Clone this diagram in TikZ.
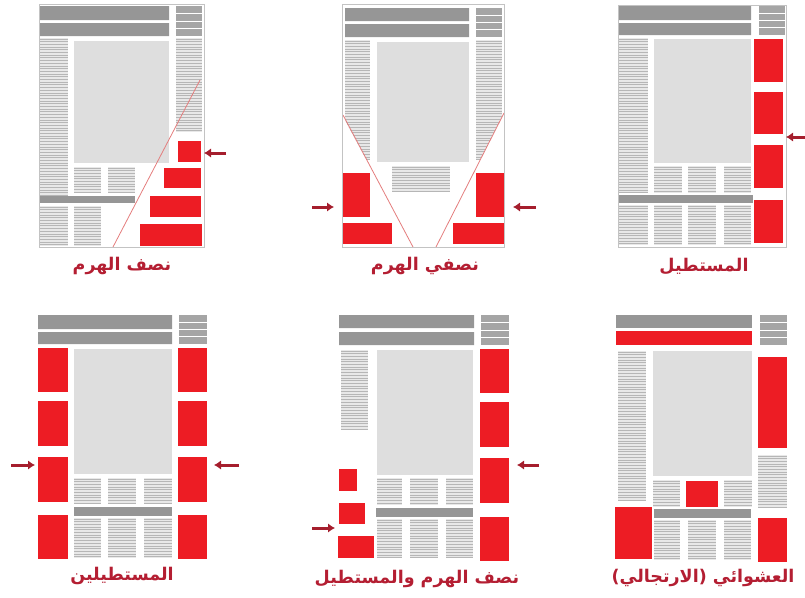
\documentclass[tikz,border=0pt]{standalone}
\usepackage{fontspec}
\newfontfamily\arabicfont[Script=Arabic]{DejaVu Sans}
\TeXXeTstate=1
\usetikzlibrary{arrows.meta,fit}

\definecolor{bargrey}{RGB}{150,150,150}
\definecolor{headgrey}{RGB}{165,165,165}
\definecolor{picgrey}{RGB}{222,222,222}
\definecolor{textgrey}{RGB}{232,232,232}
\definecolor{linegrey}{RGB}{182,182,182}
\definecolor{framegrey}{RGB}{195,195,195}
\definecolor{adred}{RGB}{237,28,36}
\definecolor{arrowred}{RGB}{165,30,45}
\definecolor{labelred}{RGB}{180,30,50}
\definecolor{pyrline}{RGB}{228,125,125}

\tikzset{
  adbox/.style={fill=adred, inner sep=0pt, outer sep=0pt},
  arw/.style={-{Latex[length=7pt,width=9.5pt]}, line width=3pt, draw=arrowred, shorten >=3pt},
  lbl/.style={text=labelred, font=\arabicfont\bfseries\fontsize{17.5}{21}\selectfont, inner sep=0pt},
  pageframe/.style={draw=framegrey, line width=0.8pt},
  pyr/.style={draw=pyrline, line width=0.8pt}
}

% a column of text lines
\newcommand{\txtcol}[4]{%
  \fill[textgrey] (#1,#2) rectangle (#3,#4);
  \begin{scope}
    \clip (#1,#2) rectangle (#3,#4);
    \foreach \k in {0,...,70}
      \draw[linegrey, line width=0.9pt] (#1,{#2+1+\k*2.7}) -- (#3,{#2+1+\k*2.7});
  \end{scope}}
% the small block beside the headline
\newcommand{\smallhead}[4]{%
  \fill[headgrey] (#1,#2) rectangle (#3,#4);
  \foreach \k in {1,2,3}
    \draw[white, line width=0.8pt] (#1,{#2+\k*(#4-#2)/4}) -- (#3,{#2+\k*(#4-#2)/4});}

\begin{document}
\begin{tikzpicture}[x=1pt, y=-1pt]
\useasboundingbox (0,0) rectangle (805,597);

% ---------- half pyramid (top left) ----------
\fill[bargrey] (40,6) rectangle (169,20) (40,23) rectangle (169,36);
\smallhead{176}{6}{202}{36}
\txtcol{40}{38}{68}{195}
\txtcol{176}{38}{202}{132}
\fill[picgrey] (74,41) rectangle (169,163);
\txtcol{74}{167}{101}{193}
\txtcol{108}{167}{135}{193}
\fill[bargrey] (40,196) rectangle (135,203);
\txtcol{40}{206}{68}{246}
\txtcol{74}{206}{101}{246}
\draw[pyr] (200,80) -- (113,247);
\node[adbox, fit={(178,141) (201,162)}] (h1) {};
\node[adbox, fit={(164,168) (201,188)}] (h2) {};
\node[adbox, fit={(150,196) (201,217)}] (h3) {};
\node[adbox, fit={(140,224) (202,246)}] (h4) {};
\draw[pageframe] (39,4) rectangle (204,247);
\coordinate (ha) at (226,153);
\draw[arw] (ha) -- (ha -| h1.east);
\node[lbl] (t1) at (122,266) {\beginR نصف الهرم\endR};

% ---------- two half pyramids (top middle) ----------
\fill[bargrey] (345,8) rectangle (469,21) (345,24) rectangle (469,37);
\smallhead{476}{8}{502}{37}
\txtcol{345}{40}{370}{160}
\txtcol{476}{40}{502}{160}
\fill[picgrey] (377,42) rectangle (469,162);
\txtcol{392}{166}{450}{192}
% the space cut out under the two lines
\fill[white] (342,115) -- (413,247) -- (342,247) -- cycle;
\fill[white] (504,113) -- (436,247) -- (504,247) -- cycle;
\draw[pyr] (343,115) -- (413,247);
\draw[pyr] (504,113) -- (436,247);
\node[adbox, fit={(343,173) (370,217)}] (d1) {};
\node[adbox, fit={(343,223) (392,244)}] (d2) {};
\node[adbox, fit={(476,173) (504,217)}] (d3) {};
\node[adbox, fit={(453,223) (504,244)}] (d4) {};
\draw[pageframe] (342,4) rectangle (504,247);
\coordinate (da) at (312,207);
\coordinate (db) at (536,207);
\draw[arw, shorten >=9pt] (da) -- (da -| d1.west);
\draw[arw, shorten >=9pt] (db) -- (db -| d3.east);
\node[lbl] (t2) at (425,266) {\beginR نصفي الهرم\endR};

% ---------- rectangle (top right) ----------
\fill[bargrey] (619,6) rectangle (751,20) (619,23) rectangle (751,35);
\smallhead{759}{6}{785}{35}
\txtcol{619}{38}{648}{193}
\fill[picgrey] (654,39) rectangle (751,163);
\foreach \xa/\xb in {654/682,688/716,724/751}
  \txtcol{\xa}{166}{\xb}{193}
\fill[bargrey] (619,195) rectangle (753,203);
\foreach \xa/\xb in {619/648,654/682,688/716,724/751}
  \txtcol{\xa}{205}{\xb}{245}
\foreach \ya/\yb [count=\i] in {39/82,92/134,145/188,200/243}
  \node[adbox, fit={(754,\ya) (783,\yb)}] (s\i) {};
\draw[pageframe] (618,5) rectangle (786,247);
\coordinate (sa) at (809,137);
\draw[arw] (sa) -- (sa -| s2.east);
\node[lbl] (t3) at (704,266) {\beginR المستطيل\endR};

% ---------- two rectangles (bottom left) ----------
\fill[bargrey] (38,315) rectangle (172,329) (38,332) rectangle (172,344);
\smallhead{179}{315}{207}{344}
\fill[picgrey] (74,349) rectangle (172,474);
\foreach \xa/\xb in {74/101,108/136,144/172}
{
  \txtcol{\xa}{478}{\xb}{503}
  \txtcol{\xa}{518}{\xb}{558}
}
\fill[bargrey] (74,507) rectangle (172,516);
\foreach \ya/\yb [count=\i] in {348/392,401/446,457/502,515/559}
{
  \node[adbox, fit={(38,\ya) (68,\yb)}] (wl\i) {};
  \node[adbox, fit={(178,\ya) (207,\yb)}] (wr\i) {};
}
\coordinate (wa) at (11,465);
\coordinate (wb) at (239,465);
\draw[arw] (wa) -- (wa -| wl3.west);
\draw[arw, shorten >=7pt] (wb) -- (wb -| wr3.east);
\node[lbl] (t4) at (122,576) {\beginR المستطيلين\endR};

% ---------- half pyramid and rectangle (bottom middle) ----------
\fill[bargrey] (339,315) rectangle (474,328) (339,332) rectangle (474,345);
\smallhead{481}{315}{509}{345}
\txtcol{341}{350}{368}{430}
\fill[picgrey] (377,350) rectangle (473,475);
\foreach \xa/\xb in {377/402,410/438,446/473}
{
  \txtcol{\xa}{478}{\xb}{505}
  \txtcol{\xa}{519}{\xb}{558}
}
\fill[bargrey] (376,508) rectangle (473,517);
\foreach \ya/\yb [count=\i] in {349/393,402/447,458/503,517/561}
  \node[adbox, fit={(480,\ya) (509,\yb)}] (m\i) {};
\node[adbox, fit={(339,469) (357,491)}] (p1) {};
\node[adbox, fit={(339,503) (365,524)}] (p2) {};
\node[adbox, fit={(338,536) (374,558)}] (p3) {};
\coordinate (ma) at (539,465);
\coordinate (mb) at (312,528);
\draw[arw, shorten >=8pt] (ma) -- (ma -| m3.east);
\draw[arw] (mb) -- (mb -| p3.west);
\node[lbl] (t5) at (417,579) {\beginR نصف الهرم والمستطيل\endR};

% ---------- random (bottom right) ----------
\fill[bargrey] (616,315) rectangle (752,328);
\node[adbox, fit={(616,331) (752,345)}] (r1) {};
\smallhead{760}{315}{787}{345}
\txtcol{618}{351}{646}{500}
\fill[picgrey] (653,351) rectangle (752,476);
\txtcol{653}{480}{680}{507}
\node[adbox, fit={(686,481) (718,507)}] (r2) {};
\txtcol{724}{480}{752}{507}
\fill[bargrey] (654,509) rectangle (751,518);
\foreach \xa/\xb in {654/680,688/716,724/751}
  \txtcol{\xa}{520}{\xb}{560}
\node[adbox, fit={(615,507) (652,559)}] (r3) {};
\node[adbox, fit={(758,357) (787,448)}] (r4) {};
\txtcol{758}{455}{787}{507}
\node[adbox, fit={(758,518) (787,562)}] (r5) {};
\node[lbl] (t6) at (703,578) {\beginR العشوائي (الارتجالي)\endR};

\end{tikzpicture}
\end{document}
